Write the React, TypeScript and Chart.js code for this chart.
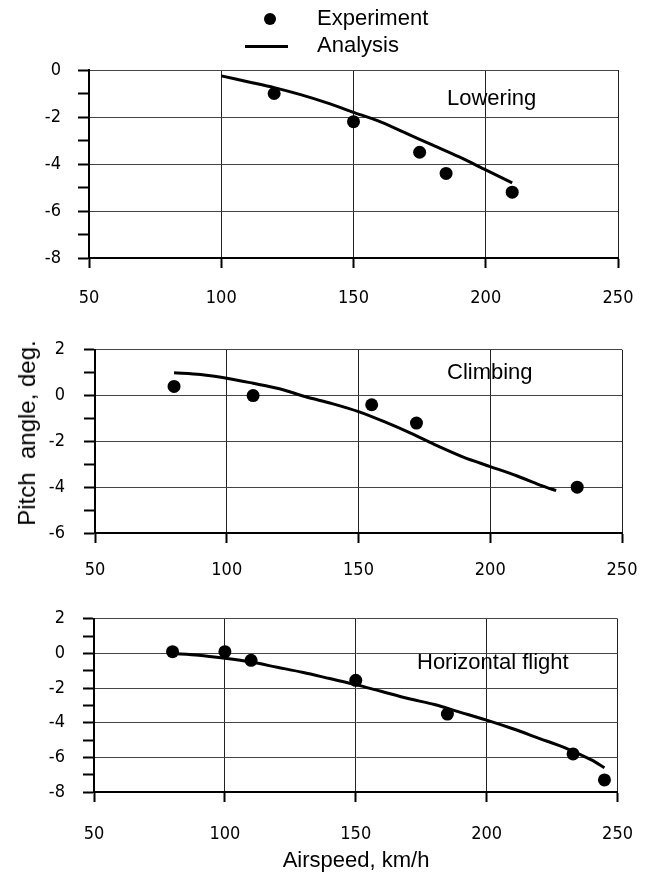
import React, { useEffect, useRef } from "react";
import { Chart, registerables } from "chart.js";

Chart.register(...registerables);

// ---- Data ----
const xTicks = [50, 100, 150, 200, 250];

const lowerExpX = [120, 150, 175, 185, 210];
const lowerExpY = [-1.0, -2.2, -3.5, -4.4, -5.2];
const lowerAnaX = [100, 110, 120, 130, 140, 150, 160, 170, 180, 190, 200, 210];
const lowerAnaY = [-0.25, -0.5, -0.75, -1.05, -1.4, -1.8, -2.2, -2.7, -3.2, -3.7, -4.25, -4.8];

const climbExpX = [80, 110, 155, 172, 233];
const climbExpY = [0.4, 0.0, -0.4, -1.2, -4.0];
const climbAnaX = [80, 90, 100, 110, 120, 130, 140, 150, 160, 170, 180, 190, 200, 210, 220, 225];
const climbAnaY = [1.0, 0.92, 0.76, 0.54, 0.3, -0.05, -0.35, -0.7, -1.15, -1.65, -2.2, -2.7, -3.1, -3.5, -3.95, -4.15];

const horizExpX = [80, 100, 110, 150, 185, 233, 245];
const horizExpY = [0.1, 0.1, -0.4, -1.55, -3.5, -5.8, -7.3];
const horizAnaX = [80, 90, 100, 110, 120, 130, 140, 150, 160, 170, 180, 190, 200, 210, 220, 230, 240, 245];
const horizAnaY = [0, -0.1, -0.28, -0.5, -0.8, -1.1, -1.45, -1.8, -2.2, -2.6, -2.95, -3.4, -3.85, -4.35, -4.9, -5.45, -6.15, -6.6];

const legendLabels = ["Experiment", "Analysis"];
const panelTitles = ["Lowering", "Climbing", "Horizontal flight"];
const xTitle = "Airspeed, km/h";
const yTitle = "Pitch  angle, deg.";

const TICK_FAMILY = "'DejaVu Sans Condensed', 'DejaVu Sans', Verdana, sans-serif";
const TEXT_FAMILY = "'Liberation Sans', Arial, sans-serif";

type PanelProps = {
  top: number;
  height: number;
  padTop: number;
  plotLeft: number;
  plotRight: number;
  plotBottom: number;
  yMin: number;
  yMax: number;
  expX: number[];
  expY: number[];
  anaX: number[];
  anaY: number[];
  xPad: number;
  yPad: number;
};

function Panel(p: PanelProps) {
  const ref = useRef<HTMLCanvasElement | null>(null);
  useEffect(() => {
    if (!ref.current) return;
    const W = 655;
    const exp = p.expX.map((x, i) => ({ x, y: p.expY[i] }));
    const ana = p.anaX.map((x, i) => ({ x, y: p.anaY[i] }));
    const tickFont = { family: TICK_FAMILY, size: 18 };
    const chart = new Chart(ref.current, {
      type: "scatter",
      data: {
        datasets: [
          {
            label: legendLabels[1],
            data: ana,
            showLine: true,
            borderColor: "#000",
            borderWidth: 3,
            pointRadius: 0,
            tension: 0.3,
            fill: false,
          },
          {
            label: legendLabels[0],
            data: exp,
            showLine: false,
            backgroundColor: "#000",
            borderColor: "#000",
            pointRadius: 6.5,
            pointBorderWidth: 0,
          },
        ],
      },
      options: {
        animation: false,
        responsive: false,
        devicePixelRatio: 1,
        layout: { padding: { top: p.padTop, right: W - p.plotRight, left: 0, bottom: 0 } },
        plugins: { legend: { display: false }, tooltip: { enabled: false } },
        scales: {
          x: {
            type: "linear",
            min: 50,
            max: 250,
            afterBuildTicks: (s: any) => {
              s.ticks = xTicks.map((v) => ({ value: v }));
            },
            afterFit: (s: any) => {
              s.height = p.height - p.plotBottom;
            },
            ticks: { font: tickFont, color: "#000", padding: p.xPad, maxRotation: 0 },
            grid: { color: "#222", lineWidth: 1, tickLength: 10, tickColor: "#000", tickWidth: 2 },
            border: { color: "#000", width: 2 },
          },
          y: {
            min: p.yMin,
            max: p.yMax,
            afterFit: (s: any) => {
              s.width = p.plotLeft;
            },
            ticks: {
              stepSize: 1,
              autoSkip: false,
              font: tickFont,
              color: "#000",
              padding: p.yPad,
              callback: (v: any) => (Math.abs(Number(v)) % 2 === 0 ? String(v) : ""),
            },
            grid: {
              color: (c: any) =>
                c.tick && Math.abs(c.tick.value) % 2 === 1 ? "rgba(0,0,0,0)" : "#444",
              lineWidth: 1,
              tickLength: 11,
              tickColor: "#000",
              tickWidth: 2,
            },
            border: { color: "#000", width: 2 },
          },
        },
      },
    } as any);
    return () => chart.destroy();
  }, []);
  return (
    <canvas
      ref={ref}
      width={655}
      height={p.height}
      style={{ position: "absolute", left: 0, top: p.top, width: 655, height: p.height }}
    />
  );
}

const textStyle: React.CSSProperties = {
  position: "absolute",
  fontFamily: TEXT_FAMILY,
  fontSize: 22,
  color: "#000",
  whiteSpace: "pre",
  lineHeight: "24px",
};

export default function App() {
  return (
    <div style={{ position: "absolute", left: 0, top: 0, width: 655, height: 875, background: "#fff", overflow: "hidden" }}>
      <Panel top={0} height={320} padTop={70} plotLeft={89} plotRight={618} plotBottom={258}
        yMin={-8} yMax={0} expX={lowerExpX} expY={lowerExpY} anaX={lowerAnaX} anaY={lowerAnaY} xPad={20} yPad={17} />
      <Panel top={320} height={270} padTop={25} plotLeft={95} plotRight={622} plotBottom={213}
        yMin={-6} yMax={2} expX={climbExpX} expY={climbExpY} anaX={climbAnaX} anaY={climbAnaY} xPad={17} yPad={19} />
      <Panel top={590} height={285} padTop={13} plotLeft={94} plotRight={621} plotBottom={202}
        yMin={-8} yMax={2} expX={horizExpX} expY={horizExpY} anaX={horizAnaX} anaY={horizAnaY} xPad={22} yPad={18} />

      {/* Legend */}
      <div style={{ position: "absolute", left: 264, top: 13, width: 12, height: 12, borderRadius: "50%", background: "#000" }} />
      <div style={{ ...textStyle, left: 317, top: 6 }}>{legendLabels[0]}</div>
      <div style={{ position: "absolute", left: 245, top: 45, width: 43, height: 3, background: "#000" }} />
      <div style={{ ...textStyle, left: 317, top: 33 }}>{legendLabels[1]}</div>

      {/* Panel titles */}
      <div style={{ ...textStyle, left: 447, top: 86 }}>{panelTitles[0]}</div>
      <div style={{ ...textStyle, left: 447, top: 360 }}>{panelTitles[1]}</div>
      <div style={{ ...textStyle, left: 417, top: 650 }}>{panelTitles[2]}</div>

      {/* Axis titles */}
      <div style={{ ...textStyle, left: 356, top: 860, transform: "translate(-50%, -50%)" }}>{xTitle}</div>
      <div style={{ ...textStyle, fontSize: 24, left: 27, top: 433, transform: "translate(-50%, -50%) rotate(-90deg)" }}>{yTitle}</div>
    </div>
  );
}
